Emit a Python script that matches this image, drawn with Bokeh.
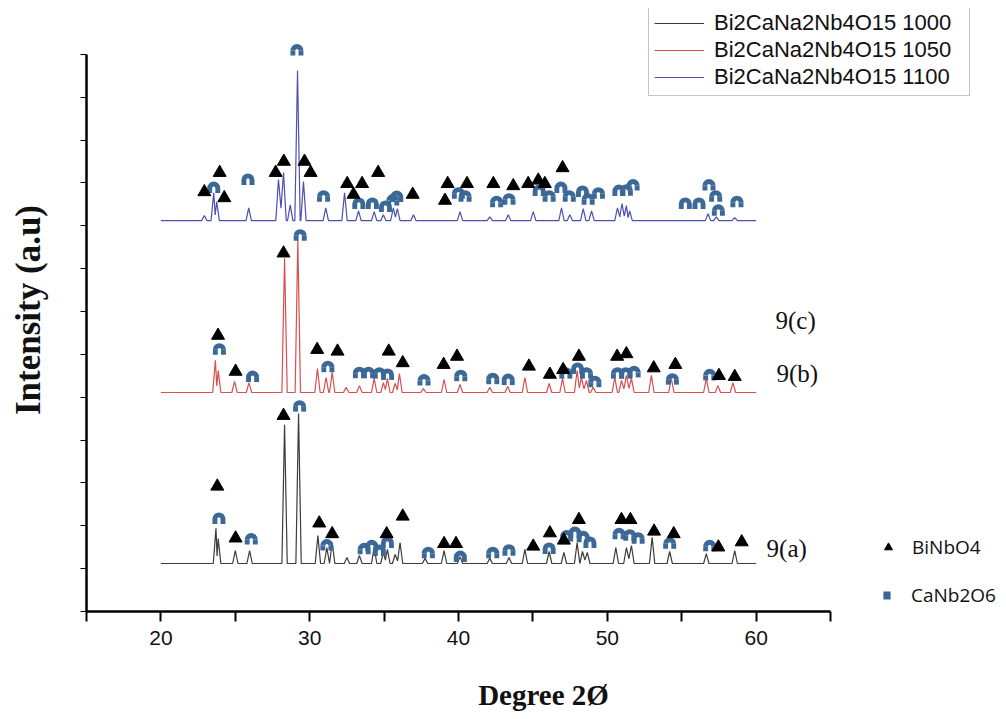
from bokeh.plotting import figure
from bokeh.models import Range1d, FixedTicker, Legend, LegendItem, ColumnDataSource
from bokeh.core.properties import value
from bokeh.embed import file_html
from bokeh.resources import INLINE

# ---------------- data ----------------
series_labels = ["Bi2CaNa2Nb4O15 1000", "Bi2CaNa2Nb4O15 1050", "Bi2CaNa2Nb4O15 1100"]
baseline = [1.12, 5.11, 9.12]          # vertical offset of each pattern (a.u.)
two_theta_start, two_theta_end = 20.0, 60.0

pk1000_x = [23.70, 23.85, 25.00, 25.96, 28.31, 29.25, 30.55, 31.15, 31.51, 32.50, 33.34, 34.33,
            34.95, 35.22, 35.74, 36.07, 37.75, 39.03, 40.10, 42.10, 43.39, 44.46, 46.09, 47.08,
            47.97, 48.33, 48.65, 50.57, 51.28, 51.62, 53.01, 54.19, 56.65, 58.56]
pk1000_h = [0.82, 0.58, 0.30, 0.30, 3.24, 3.50, 0.65, 0.37, 0.49, 0.14, 0.19, 0.37,
            0.26, 0.33, 0.21, 0.49, 0.12, 0.30, 0.16, 0.12, 0.14, 0.33, 0.28, 0.26,
            0.49, 0.28, 0.26, 0.37, 0.37, 0.42, 0.61, 0.28, 0.23, 0.30]

pk1050_x = [23.66, 23.85, 24.95, 25.92, 28.31, 29.20, 30.52, 31.10, 31.51, 32.45, 33.34, 34.33,
            34.95, 35.22, 35.74, 36.03, 37.64, 39.03, 40.10, 42.10, 43.30, 44.46, 46.09, 46.99,
            47.97, 48.26, 48.60, 49.05, 50.50, 50.95, 51.28, 51.62, 52.96, 54.30, 56.65, 57.43, 58.44]
pk1050_h = [0.75, 0.51, 0.26, 0.23, 3.13, 3.55, 0.56, 0.35, 0.47, 0.12, 0.16, 0.33,
            0.23, 0.33, 0.21, 0.44, 0.09, 0.30, 0.19, 0.12, 0.14, 0.35, 0.21, 0.33,
            0.51, 0.35, 0.28, 0.12, 0.35, 0.28, 0.40, 0.33, 0.40, 0.33, 0.33, 0.16, 0.23]

pk1100_x = [22.92, 23.55, 23.75, 25.90, 27.90, 28.24, 28.69, 29.18, 29.58, 31.08, 32.34, 33.28,
            34.33, 34.95, 35.62, 35.89, 36.97, 40.10, 42.10, 43.34, 45.02, 46.92, 47.48, 48.38,
            48.94, 50.68, 50.99, 51.28, 51.50, 56.77, 57.32, 58.56]
pk1100_h = [0.12, 0.65, 0.44, 0.30, 0.96, 1.12, 0.37, 3.50, 0.91, 0.30, 0.65, 0.23,
            0.21, 0.14, 0.30, 0.28, 0.14, 0.21, 0.09, 0.14, 0.21, 0.30, 0.14, 0.28,
            0.23, 0.30, 0.40, 0.35, 0.23, 0.16, 0.09, 0.07]

# BiNbO4 (triangle) markers
bi_x_1000 = [23.79, 25.02, 28.24, 30.64, 31.51, 35.17, 36.25, 39.03, 39.83, 45.02, 46.14, 47.08,
             48.09, 50.95, 51.55, 53.14, 54.46, 57.46, 59.03]
bi_y_1000 = [2.92, 1.71, 4.57, 2.06, 1.81, 1.81, 2.22, 1.58, 1.58, 1.52, 1.83, 1.66,
             2.14, 2.14, 2.14, 1.87, 1.81, 1.50, 1.62]
bi_x_1050 = [23.84, 25.02, 28.24, 30.50, 31.87, 35.31, 36.25, 39.00, 39.90, 44.73, 46.14, 47.03,
             48.09, 50.66, 51.28, 53.12, 54.57, 57.50, 58.56]
bi_y_1050 = [6.44, 5.60, 8.36, 6.11, 6.07, 6.07, 5.80, 5.76, 5.95, 5.72, 5.53, 5.64,
             5.95, 5.95, 6.01, 5.68, 5.76, 5.50, 5.48]
bi_x_1100 = [22.92, 23.95, 24.26, 27.71, 28.26, 29.65, 30.06, 32.52, 32.94, 33.52, 34.60, 36.92,
             39.09, 39.27, 40.57, 42.34, 43.68, 44.68, 45.36, 45.80, 46.99]
bi_y_1100 = [9.79, 10.24, 9.65, 10.24, 10.50, 10.50, 10.24, 9.98, 9.73, 9.98, 10.24, 9.73,
             9.59, 9.98, 9.98, 9.98, 9.93, 9.98, 10.06, 9.98, 10.35]

# CaNb2O6 (arch) markers
ca_x_1000 = [23.90, 26.07, 29.32, 31.15, 33.66, 34.17, 34.68, 35.22, 37.97, 40.12, 42.30, 43.39,
             46.09, 47.26, 47.82, 48.38, 48.83, 50.79, 51.51, 52.07, 54.19, 56.88]
ca_y_1000 = [2.16, 1.68, 4.78, 1.54, 1.45, 1.52, 1.41, 1.60, 1.36, 1.27, 1.36, 1.42,
             1.46, 1.75, 1.83, 1.73, 1.60, 1.80, 1.77, 1.70, 1.58, 1.52]
ca_x_1050 = [23.93, 26.16, 29.36, 31.22, 33.34, 33.95, 34.68, 35.23, 37.68, 40.15, 42.30, 43.34,
             47.21, 48.00, 48.60, 49.16, 50.68, 51.24, 51.80, 54.37, 56.88]
ca_y_1050 = [6.11, 5.47, 8.77, 5.70, 5.56, 5.56, 5.55, 5.52, 5.39, 5.49, 5.42, 5.40,
             5.55, 5.66, 5.55, 5.35, 5.55, 5.55, 5.58, 5.41, 5.51]
ca_x_1100 = [23.55, 25.85, 29.14, 30.93, 33.30, 34.21, 35.09, 35.58, 35.85, 39.99, 40.44, 42.56,
             43.39, 45.42, 46.09, 46.88, 47.44, 48.33, 48.71, 49.40, 50.78, 51.28, 51.73, 55.24,
             56.16, 56.83, 57.28, 57.46, 58.71]
ca_y_1100 = [9.88, 10.07, 13.09, 9.68, 9.51, 9.51, 9.44, 9.59, 9.67, 9.75, 9.68, 9.55,
             9.61, 9.81, 9.68, 9.88, 9.68, 9.79, 9.61, 9.75, 9.81, 9.82, 9.94, 9.51,
             9.51, 9.94, 9.68, 9.35, 9.55]

sample_tags = ["9(a)", "9(b)", "9(c)"]
tag_x = [60.70, 61.37, 61.30]
tag_y = [1.47, 5.55, 6.79]

x_ticks = [15, 20, 25, 30, 35, 40, 45, 50, 55, 60, 65]
x_tick_labels = {15: "", 20: "20", 25: "", 30: "30", 35: "", 40: "40", 45: "", 50: "50",
                 55: "", 60: "60", 65: ""}
y_ticks = list(range(0, 14))

# ---------------- helpers ----------------
HW = 0.18  # half width of a drawn peak (deg)


def profile(base, px, ph):
    pts = sorted(zip(px, ph))
    xs, ys = [two_theta_start], [base]
    for i, (x, h) in enumerate(pts):
        if i > 0 and pts[i - 1][0] + HW > x - HW:
            xp, hp = pts[i - 1]
            xs.pop(); ys.pop()
            xs.append((xp + x) / 2.0); ys.append(base + 0.3 * min(h, hp))
        else:
            xs.append(x - HW); ys.append(base)
        xs.append(x); ys.append(base + h)
        xs.append(x + HW); ys.append(base)
    xs.append(two_theta_end); ys.append(base)
    return xs, ys


# ---------------- figure ----------------
PX_PER_DEG = 14.88
PX_PER_AU = 42.85

p = figure(width=1000, height=719, output_backend="svg", toolbar_location=None,
           x_range=Range1d(15, 76.42), y_range=Range1d(0, 14.07),
           min_border_left=86, min_border_bottom=108, min_border_top=8, min_border_right=0)
p.outline_line_color = None
p.xgrid.visible = False
p.ygrid.visible = False
p.background_fill_color = "white"
p.border_fill_color = "white"

colors = ["#3c3c3c", "#d94f4f", "#4f4fb2"]
renderers = []
for base, px, ph, c in zip(baseline, [pk1000_x, pk1050_x, pk1100_x],
                           [pk1000_h, pk1050_h, pk1100_h], colors):
    xs, ys = profile(base, px, ph)
    r = p.line(xs, ys, line_color=c, line_width=1.2)
    renderers.append(r)

# markers
bi_x = bi_x_1000 + bi_x_1050 + bi_x_1100
bi_y = bi_y_1000 + bi_y_1050 + bi_y_1100
ca_x = ca_x_1000 + ca_x_1050 + ca_x_1100
ca_y = ca_y_1000 + ca_y_1050 + ca_y_1100

arch_color = "#3b6896"
r_arch = p.annular_wedge(x=ca_x, y=ca_y, inner_radius=1.6, outer_radius=6.5,
                         inner_radius_units="screen", outer_radius_units="screen",
                         start_angle=0, end_angle=3.14159, fill_color=arch_color,
                         line_color=None)
leg_dx = 4.05 / PX_PER_DEG
leg_dy = 2.5 / PX_PER_AU
leg_x = [x - leg_dx for x in ca_x] + [x + leg_dx for x in ca_x]
leg_y = [y - leg_dy for y in ca_y] * 2
p.rect(x=leg_x, y=leg_y, width=4.9, height=5, width_units="screen", height_units="screen",
       fill_color=arch_color, line_color=None)

r_tri = p.scatter(x=bi_x, y=bi_y, marker="triangle", size=13, fill_color="black",
                  line_color="black")

# sample tags
tag_src = ColumnDataSource(dict(x=tag_x, y=tag_y, t=sample_tags))
p.text(x="x", y="y", text="t", source=tag_src, text_font=value("Liberation Serif"),
       text_font_size="25px", text_baseline="middle", text_align="left", text_color="#111111")

# axes
for ax in (p.xaxis[0], p.yaxis[0]):
    ax.axis_line_width = 2.5
    ax.axis_line_color = "black"
    ax.major_tick_line_color = "black"
    ax.minor_tick_line_color = None
    ax.major_tick_in = 0

p.xaxis.bounds = (15, 65)
p.xaxis.ticker = FixedTicker(ticks=x_ticks)
p.xaxis.major_label_overrides = x_tick_labels
p.xaxis.major_tick_out = 10
p.xaxis.major_tick_line_width = 2
p.xaxis.major_label_standoff = 9
p.xaxis.major_label_text_font = "Liberation Sans"
p.xaxis.major_label_text_font_size = "21px"
p.xaxis.major_label_text_color = "#111111"
p.xaxis.axis_label = "Degree 2Ø"
p.xaxis.axis_label_text_font = "Liberation Serif"
p.xaxis.axis_label_text_font_style = "bold"
p.xaxis.axis_label_text_font_size = "29px"
p.xaxis.axis_label_text_color = "#111111"
p.xaxis.axis_label_standoff = 31

p.yaxis.bounds = (0, 13)
p.yaxis.ticker = FixedTicker(ticks=y_ticks)
p.yaxis.major_label_overrides = {t: "" for t in y_ticks}
p.yaxis.major_label_text_font_size = "0px"
p.yaxis.major_label_standoff = 0
p.yaxis.major_tick_out = 6
p.yaxis.major_tick_line_width = 1
p.yaxis.axis_label = "Intensity (a.u)"
p.yaxis.axis_label_text_font = "Liberation Serif"
p.yaxis.axis_label_text_font_style = "bold"
p.yaxis.axis_label_text_font_size = "35px"
p.yaxis.axis_label_text_color = "#111111"
p.yaxis.axis_label_standoff = 33

# legends
main_legend = Legend(items=[LegendItem(label=l, renderers=[r]) for l, r in zip(series_labels, renderers)],
                     location=(562, 515), glyph_width=50, glyph_height=22, label_standoff=10,
                     label_width=250, padding=5, spacing=1, margin=0,
                     label_text_font="Liberation Sans",
                     label_text_font_size="22px", label_text_color="#111111",
                     border_line_color="#8a8a8a", border_line_width=1.5,
                     background_fill_color="white", background_fill_alpha=1.0)
p.add_layout(main_legend, "center")

bi_legend = Legend(items=[LegendItem(label="BiNbO4", renderers=[r_tri])],
                   location=(792, 51), glyph_width=20, glyph_height=20, label_standoff=14,
                   padding=0, spacing=0, margin=0, label_text_font="Open Sans",
                   label_text_font_size="19px", label_text_color="#111111",
                   border_line_color=None, background_fill_alpha=0)
p.add_layout(bi_legend, "center")

ca_legend = Legend(items=[LegendItem(label="CaNb2O6", renderers=[r_arch])],
                   location=(796, 3), glyph_width=9, glyph_height=10, label_standoff=20,
                   padding=0, spacing=0, margin=0, label_text_font="Open Sans",
                   label_text_font_size="19px", label_text_color="#111111",
                   border_line_color=None, background_fill_alpha=0)
p.add_layout(ca_legend, "center")

open("out.html", "w").write(file_html(p, INLINE))
